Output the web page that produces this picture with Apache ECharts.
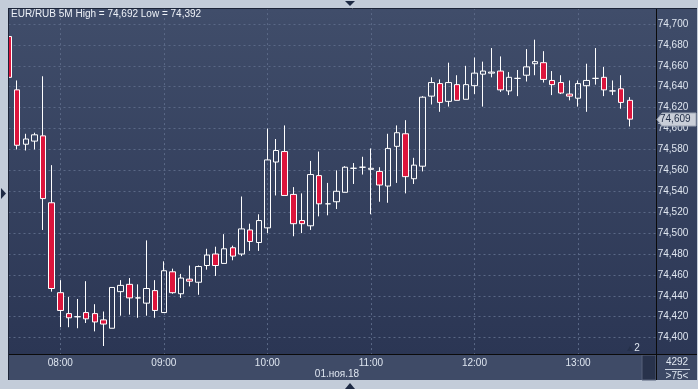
<!DOCTYPE html>
<html><head><meta charset="utf-8">
<script src="https://cdn.jsdelivr.net/npm/echarts@6/dist/echarts.min.js"></script>
<style>html,body{margin:0;padding:0;background:#c3ccd9}#c{width:698px;height:389px}</style>
</head><body><div id="c"></div>
<script>
const titleText = 'EUR/RUB 5M High = 74,692 Low = 74,392';
const dateLabel = '01.ноя.18';
const categories = ['07:30','07:35','07:40','07:45','07:50','07:55','08:00','08:05','08:10','08:15','08:20','08:25',
 '08:30','08:35','08:40','08:45','08:50','08:55','09:00','09:05','09:10','09:15','09:20','09:25',
 '09:30','09:35','09:40','09:45','09:50','09:55','10:00','10:05','10:10','10:15','10:20','10:25',
 '10:30','10:35','10:40','10:45','10:50','10:55','11:00','11:05','11:10','11:15','11:20','11:25',
 '11:30','11:35','11:40','11:45','11:50','11:55','12:00','12:05','12:10','12:15','12:20','12:25',
 '12:30','12:35','12:40','12:45','12:50','12:55','13:00','13:05','13:10','13:15','13:20','13:25',
 '13:30','13:35','13:40','13:45'];
const opens = [74.688,74.637,74.585,74.588,74.593,74.529,74.443,74.423,74.420,74.424,74.423,74.417,
 74.409,74.444,74.451,74.438,74.433,74.445,74.424,74.463,74.442,74.456,74.453,74.469,
 74.480,74.471,74.486,74.480,74.503,74.491,74.505,74.568,74.578,74.537,74.512,74.507,
 74.555,74.528,74.530,74.539,74.562,74.563,74.561,74.559,74.545,74.583,74.595,74.552,
 74.564,74.631,74.643,74.626,74.642,74.628,74.641,74.652,74.653,74.655,74.636,74.648,
 74.651,74.662,74.663,74.646,74.644,74.633,74.629,74.641,74.648,74.649,74.636,74.638,
 74.627];
const closes = [74.649,74.584,74.590,74.594,74.533,74.447,74.426,74.419,74.420,74.418,74.415,74.413,
 74.448,74.450,74.438,74.438,74.447,74.426,74.464,74.443,74.457,74.454,74.468,74.479,
 74.469,74.485,74.478,74.504,74.492,74.512,74.570,74.579,74.536,74.509,74.509,74.556,
 74.528,74.528,74.540,74.563,74.562,74.563,74.562,74.546,74.581,74.596,74.554,74.565,
 74.630,74.644,74.625,74.644,74.627,74.642,74.653,74.655,74.654,74.637,74.649,74.648,
 74.659,74.664,74.647,74.642,74.634,74.631,74.643,74.646,74.648,74.637,74.636,74.625,
 74.609];
const lows = [74.648,74.580,74.579,74.580,74.503,74.444,74.410,74.410,74.409,74.414,74.406,74.392,
 74.409,74.421,74.422,74.419,74.421,74.419,74.424,74.442,74.438,74.449,74.441,74.465,
 74.459,74.471,74.474,74.478,74.483,74.483,74.500,74.536,74.536,74.497,74.500,74.503,
 74.516,74.517,74.523,74.539,74.547,74.556,74.518,74.530,74.529,74.548,74.538,74.547,
 74.559,74.623,74.616,74.621,74.627,74.628,74.633,74.621,74.649,74.635,74.632,74.631,
 74.645,74.651,74.644,74.632,74.633,74.627,74.621,74.616,74.642,74.631,74.632,74.619,
 74.602];
const highs = [74.692,74.646,74.595,74.596,74.650,74.565,74.455,74.439,74.437,74.454,74.432,74.425,
 74.448,74.455,74.457,74.451,74.493,74.455,74.473,74.466,74.461,74.469,74.469,74.485,
 74.487,74.499,74.488,74.535,74.509,74.518,74.600,74.590,74.603,74.544,74.538,74.569,
 74.578,74.548,74.560,74.564,74.567,74.573,74.581,74.563,74.595,74.603,74.608,74.572,
 74.631,74.649,74.647,74.663,74.651,74.660,74.668,74.664,74.677,74.669,74.654,74.656,
 74.676,74.685,74.674,74.655,74.651,74.646,74.646,74.662,74.677,74.659,74.646,74.651,
 74.630];
const yMin = 74.38, yMax = 74.72, yStep = 0.02;
const lastPrice = 74.609;
const fmt = v => v.toFixed(3).replace('.', ',');

const ohlc = opens.map((o, i) => [o, closes[i], lows[i], highs[i]]);
const FONT = '"Liberation Sans", Arial, sans-serif';
const TXT = '#dfe6f0';

const chart = echarts.init(document.getElementById('c'), null, {renderer: 'canvas'});

function graphics(markerY) {
  const g = [
    {id:'plotbg', type:'rect', z:-5, shape:{x:9,y:9,width:647,height:345},
     style:{fill:new echarts.graphic.LinearGradient(0,0,0,1,[{offset:0,color:'#404d6a'},{offset:1,color:'#2b3654'}])}},
    {id:'rightbg', type:'rect', z:-5, shape:{x:656,y:9,width:41,height:345},
     style:{fill:new echarts.graphic.LinearGradient(0,0,0,1,[{offset:0,color:'#3f4c69'},{offset:1,color:'#2c3755'}])}},
    {id:'topframe', type:'rect', z:100, shape:{x:0,y:0,width:698,height:8},
     style:{fill:'#c3ccd9'}},
    {id:'leftframe', type:'rect', z:100, shape:{x:0,y:0,width:8,height:389},
     style:{fill:'#c3ccd9'}},
    {id:'xpanel', type:'rect', z:100, shape:{x:9,y:355,width:647,height:25},
     style:{fill:'#3f4b67'}},
    {id:'xscroll', type:'rect', z:101, shape:{x:642,y:355,width:14,height:25},
     style:{fill:'#28324b', stroke:'#56617a', lineWidth:1}},
    {id:'brpanel', type:'rect', z:100, shape:{x:656,y:355,width:41,height:25},
     style:{fill:'#3c4864'}},
    {id:'bottomframe', type:'rect', z:100, shape:{x:0,y:380,width:698,height:9},
     style:{fill:'#c3ccd9'}},
    {id:'rightframe', type:'rect', z:100, shape:{x:697,y:0,width:1,height:389},
     style:{fill:'#c3ccd9'}},
    {id:'bordTop', type:'line', z:102, shape:{x1:8,y1:8.5,x2:697,y2:8.5}, style:{stroke:'#1c2438',lineWidth:1}},
    {id:'bordLeft', type:'line', z:102, shape:{x1:8.5,y1:8,x2:8.5,y2:380}, style:{stroke:'#1c2438',lineWidth:1}},
    {id:'bordBottom', type:'line', z:102, shape:{x1:9,y1:354.5,x2:697,y2:354.5}, style:{stroke:'#0b0b0b',lineWidth:1}},
    {id:'bordRight', type:'line', z:102, shape:{x1:656.5,y1:9,x2:656.5,y2:380}, style:{stroke:'#0b0b0b',lineWidth:1}},
    {id:'triTop', type:'polygon', z:103, shape:{points:[[345,1],[355,1],[350,6]]}, style:{fill:'#1e2a44'}},
    {id:'triBot', type:'polygon', z:103, shape:{points:[[345,389],[355,389],[350,383]]}, style:{fill:'#1e2a44'}},
    {id:'triLeft', type:'polygon', z:103, shape:{points:[[1,188],[1,199],[6,193.5]]}, style:{fill:'#1e2a44'}},
    {id:'title', type:'text', z:50, x:11, y:14,
     style:{text:titleText, fill:'#eef2f8', font:'10px '+FONT, textVerticalAlign:'middle', textAlign:'left'}},
    {id:'date', type:'text', z:160, x:337, y:374,
     style:{text:dateLabel, fill:TXT, font:'10px '+FONT, textVerticalAlign:'middle', textAlign:'center'}},
    {id:'two', type:'text', z:50, x:637, y:348,
     style:{text:'2', fill:TXT, font:'10px '+FONT, textVerticalAlign:'middle', textAlign:'center'}},
    {id:'twoTri', type:'polygon', z:50, shape:{points:[[627,351],[633,351],[630,346]]}, style:{fill:'#25304a'}},
    {id:'cnt', type:'text', z:160, x:677, y:362,
     style:{text:'4292', fill:TXT, font:'10px '+FONT, textVerticalAlign:'middle', textAlign:'center'}},
    {id:'cntLine', type:'line', z:160, shape:{x1:665,y1:369.5,x2:690,y2:369.5}, style:{stroke:'#c9d1de',lineWidth:1}},
    {id:'bars', type:'text', z:160, x:677, y:376,
     style:{text:'>75<', fill:TXT, font:'10px '+FONT, textVerticalAlign:'middle', textAlign:'center'}}
  ];
  if (markerY != null) {
    g.push({id:'mk', type:'polygon', z:120,
      shape:{points:[[657,markerY],[662,markerY-6.5],[696,markerY-6.5],[696,markerY+6.5],[662,markerY+6.5]]},
      style:{fill:'#c9ced8', stroke:'#9aa3b3', lineWidth:1}});
    g.push({id:'mkText', type:'text', z:121, x:660, y:markerY,
      style:{text:fmt(lastPrice), fill:'#1d2a44', font:'10px '+FONT, textVerticalAlign:'middle', textAlign:'left'}});
  }
  return g;
}

const option = {
  backgroundColor: '#c3ccd9',
  animation: false,
  grid: [
    {left: 8.5, top: 3.09, width: 647.2, height: 355.47},
    {left: 8.5, top: 354, width: 647.2, height: 2}
  ],
  xAxis: [
    {type:'category', gridIndex:0, data:categories, boundaryGap:false,
     axisLine:{show:false}, axisTick:{show:false}, axisLabel:{show:false},
     splitLine:{show:true, interval:(i, v) => /:00$/.test(v), lineStyle:{color:'#5a6886', type:[2,3], width:1}}},
    {type:'category', gridIndex:1, data:categories, boundaryGap:false, z:150,
     axisLine:{show:false}, axisTick:{show:false}, splitLine:{show:false},
     axisLabel:{show:true, interval:(i, v) => /:00$/.test(v), margin:2, color:TXT, fontSize:10, fontFamily:FONT}}
  ],
  yAxis: [
    {type:'value', gridIndex:0, position:'right', min:yMin, max:yMax, interval:yStep, scale:true,
     axisLine:{show:false}, axisTick:{show:false},
     axisLabel:{show:true, showMinLabel:false, showMaxLabel:false, margin:2, color:TXT, fontSize:10, fontFamily:FONT, formatter:fmt},
     splitLine:{show:true, lineStyle:{color:'#5a6886', type:[2,3], width:1}}},
    {type:'value', gridIndex:1, show:false}
  ],
  series: [{
    type:'candlestick', xAxisIndex:0, yAxisIndex:0, data:ohlc, barWidth:6, clip:true,
    itemStyle:{color:'rgba(0,0,0,0)', color0:'#dc143c', borderColor:'#ffffff', borderColor0:'#ffffff', borderColorDoji:'#ffffff', borderWidth:1}
  }],
  graphic: graphics(null)
};
chart.setOption(option);
const my = chart.convertToPixel({yAxisIndex:0}, lastPrice);
chart.setOption({graphic: graphics(Math.round(my) + 0.5)});
</script></body></html>
